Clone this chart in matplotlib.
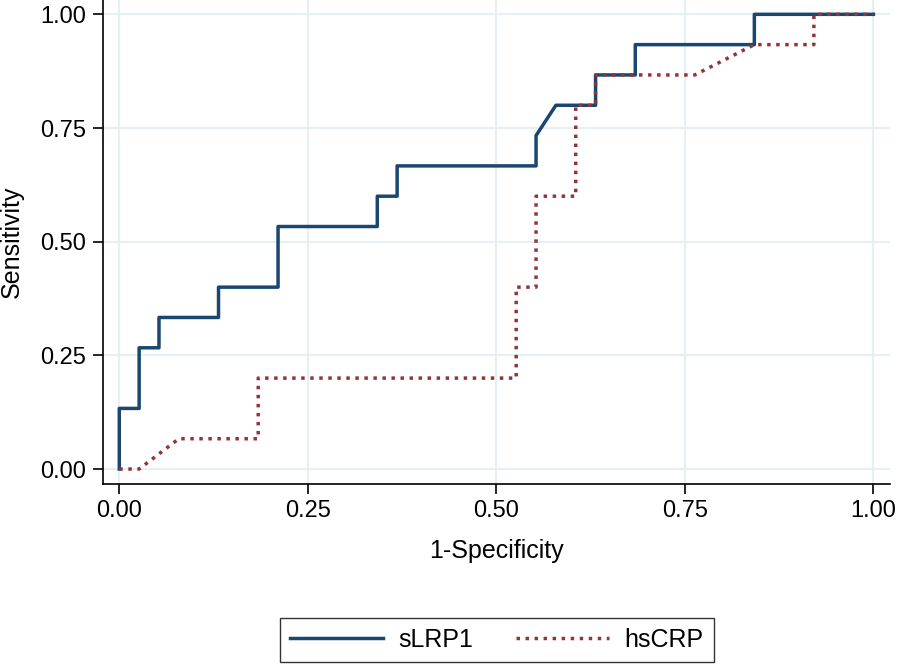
# roc_plot.py

import numpy as np
import matplotlib.pyplot as plt

# ROC points (1-specificity, sensitivity)
slrp1_fpr = [0, 0, 1, 1, 2, 2, 5, 5, 8, 8, 13, 13, 14, 14, 21, 21, 22, 24, 24, 26, 26, 32, 32, 38]
slrp1_tpr = [0, 2, 2, 4, 4, 5, 5, 6, 6, 8, 8, 9, 9, 10, 10, 11, 12, 12, 13, 13, 14, 14, 15, 15]
hscrp_fpr = [0, 1, 3, 7, 7, 20, 20, 21, 21, 23, 23, 24, 24, 29, 32, 35, 35, 38]
hscrp_tpr = [0, 0, 1, 1, 3, 3, 6, 6, 9, 9, 12, 12, 13, 13, 14, 14, 15, 15]
n_neg = 38
n_pos = 15

ticks = [0.0, 0.25, 0.5, 0.75, 1.0]
tick_labels = ['0.00', '0.25', '0.50', '0.75', '1.00']


def roc_plot():
    plt.rcParams['font.family'] = ['Liberation Sans', 'DejaVu Sans']

    fig = plt.figure(figsize=(8.97, 6.64), dpi=100)
    ax = fig.add_axes([0.1145, 0.2715, 0.8777, 0.7285])

    x1 = np.array(slrp1_fpr) / n_neg
    y1 = np.array(slrp1_tpr) / n_pos
    x2 = np.array(hscrp_fpr) / n_neg
    y2 = np.array(hscrp_tpr) / n_pos

    ax.plot(x1, y1, color='#1a476f', linewidth=2.5, label='sLRP1', zorder=3)
    ax.plot(x2, y2, color='#90353b', linewidth=2.5, linestyle=(0, (1, 1.6)),
            dash_capstyle='butt', label='hsCRP', zorder=3)

    # axes styling (Stata-like)
    ax.set_xlim(-0.022, 1.022)
    ax.set_ylim(-0.0323, 1.0315)
    ax.set_xticks(ticks)
    ax.set_xticklabels(tick_labels)
    ax.set_yticks(ticks)
    ax.set_yticklabels(tick_labels)
    ax.grid(True, color='#e6eff1', linewidth=1.5, zorder=0)
    ax.set_axisbelow(True)
    ax.spines['top'].set_visible(False)
    ax.spines['right'].set_visible(False)
    for s in ['left', 'bottom']:
        ax.spines[s].set_linewidth(1.2)
    ax.tick_params(axis='both', length=7, width=1.2, labelsize=17, pad=5)

    ax.set_xlabel('1-Specificity', fontsize=18, labelpad=12)
    ax.set_ylabel('Sensitivity', fontsize=18, labelpad=12)

    leg = fig.legend(loc='center', bbox_to_anchor=(496.5 / 897, 1 - 640 / 664),
                     ncol=2, fontsize=18, frameon=True, fancybox=False,
                     handlelength=3.75, handletextpad=0.6, columnspacing=1.7,
                     borderpad=0.4, borderaxespad=0)
    leg.get_frame().set_edgecolor('black')
    leg.get_frame().set_linewidth(1.0)

    fig.savefig('out.png', dpi=100)


if __name__ == "__main__":
    roc_plot()
